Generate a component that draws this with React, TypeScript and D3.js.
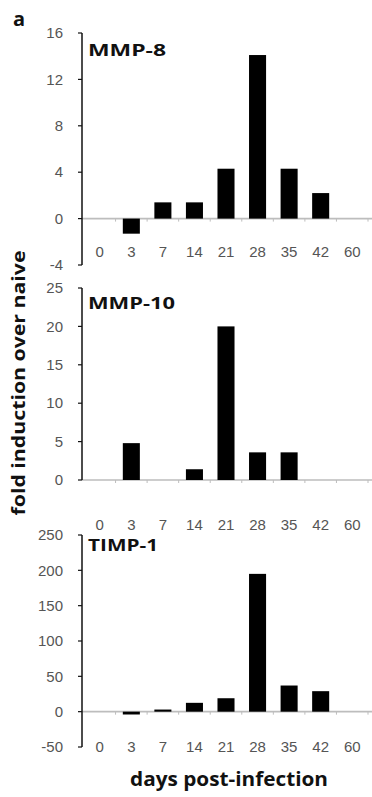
import React from "react";
import * as d3 from "d3";

const categories = ["0", "3", "7", "14", "21", "28", "35", "42", "60"];

const mmp8Values = [0, -1.3, 1.4, 1.4, 4.3, 14.1, 4.3, 2.2, 0];
const mmp10Values = [0, 4.8, 0, 1.4, 20, 3.6, 3.6, 0, 0];
const timp1Values = [0, -4, 3, 12.5, 19, 195, 37, 29, 0];

const mmp8Ticks = [-4, 0, 4, 8, 12, 16];
const mmp10Ticks = [0, 5, 10, 15, 20, 25];
const timp1Ticks = [-50, 0, 50, 100, 150, 200, 250];

const panelTitles = ["MMP-8", "MMP-10", "TIMP-1"];

const AXIS_X = 82;
const AXIS_END = 372;
const TITLE_FONT = "Open Sans, Liberation Sans, sans-serif";
const TICK_FONT = "Liberation Sans, Arial, sans-serif";

type PanelProps = {
  title: string;
  titleLen: number;
  values: number[];
  ticks: number[];
  domain: [number, number];
  range: [number, number];
  labelY: number;
  titleY: number;
};

function Panel({ title, titleLen, values, ticks, domain, range, labelY, titleY }: PanelProps) {
  const x = d3
    .scaleBand<string>()
    .domain(categories)
    .range([84, 368])
    .paddingInner(0.46)
    .paddingOuter(0.23);
  const y = d3.scaleLinear().domain(domain).range(range);
  const y0 = y(0);
  const step = x.step();
  const boundaries = d3.range(1, categories.length + 1).map((i) => 84 + i * step);

  return (
    <g>
      <line x1={AXIS_X} x2={AXIS_END} y1={y0} y2={y0} stroke="#bdbdbd" strokeWidth={1.6} />
      {boundaries.map((b, i) => (
        <line key={"xt" + i} x1={b} x2={b} y1={y0} y2={y0 + 3} stroke="#bdbdbd" strokeWidth={1} />
      ))}
      {values.map((v, i) =>
        v === 0 ? null : (
          <rect
            key={"b" + i}
            x={x(categories[i])}
            width={x.bandwidth()}
            y={Math.min(y(v), y0)}
            height={Math.abs(y(v) - y0)}
            fill="#000"
          />
        )
      )}
      <line x1={AXIS_X} x2={AXIS_X} y1={y(domain[1])} y2={y(domain[0])} stroke="#111" strokeWidth={1.5} />
      {ticks.map((t) => (
        <g key={"yt" + t}>
          <line x1={AXIS_X - 4} x2={AXIS_X} y1={y(t)} y2={y(t)} stroke="#111" strokeWidth={1.2} />
          <text
            x={AXIS_X - 19}
            y={y(t)}
            dy="0.35em"
            textAnchor="end"
            fontFamily={TICK_FONT}
            fontSize={15}
            fill="#555"
          >
            {t}
          </text>
        </g>
      ))}
      {categories.map((c) => (
        <text
          key={"c" + c}
          x={(x(c) as number) + x.bandwidth() / 2}
          y={labelY}
          dy="0.35em"
          textAnchor="middle"
          fontFamily={TICK_FONT}
          fontSize={15}
          fill="#555"
        >
          {c}
        </text>
      ))}
      <text
        x={88}
        y={titleY}
        dy="0.35em"
        fontFamily={TITLE_FONT}
        fontWeight="bold"
        fontSize={16}
        fill="#111"
        textLength={titleLen}
        lengthAdjust="spacingAndGlyphs"
      >
        {title}
      </text>
    </g>
  );
}

export default function App() {
  return (
    <svg
      width={372}
      height={797}
      style={{ position: "absolute", left: 0, top: 0, background: "#fff" }}
    >
      <text x={13} y={19} dy="0.35em" fontFamily={TITLE_FONT} fontWeight="bold" fontSize={20} fill="#111">
        a
      </text>
      <Panel
        title={panelTitles[0]}
        titleLen={78}
        values={mmp8Values}
        ticks={mmp8Ticks}
        domain={[-4, 16]}
        range={[265, 33]}
        labelY={252}
        titleY={50}
      />
      <Panel
        title={panelTitles[1]}
        titleLen={87}
        values={mmp10Values}
        ticks={mmp10Ticks}
        domain={[0, 25]}
        range={[480, 288]}
        labelY={525}
        titleY={303}
      />
      <Panel
        title={panelTitles[2]}
        titleLen={70}
        values={timp1Values}
        ticks={timp1Ticks}
        domain={[-50, 250]}
        range={[747, 535]}
        labelY={747}
        titleY={545}
      />
      <text
        transform="translate(19,383) rotate(-90)"
        dy="0.35em"
        textAnchor="middle"
        fontFamily={TITLE_FONT}
        fontWeight="bold"
        fontSize={18}
        fill="#111"
        textLength={265}
        lengthAdjust="spacingAndGlyphs"
      >
        fold induction over naive
      </text>
      <text
        x={229}
        y={779}
        dy="0.35em"
        textAnchor="middle"
        fontFamily={TITLE_FONT}
        fontWeight="bold"
        fontSize={20}
        fill="#111"
        textLength={198}
        lengthAdjust="spacingAndGlyphs"
      >
        days post-infection
      </text>
    </svg>
  );
}
